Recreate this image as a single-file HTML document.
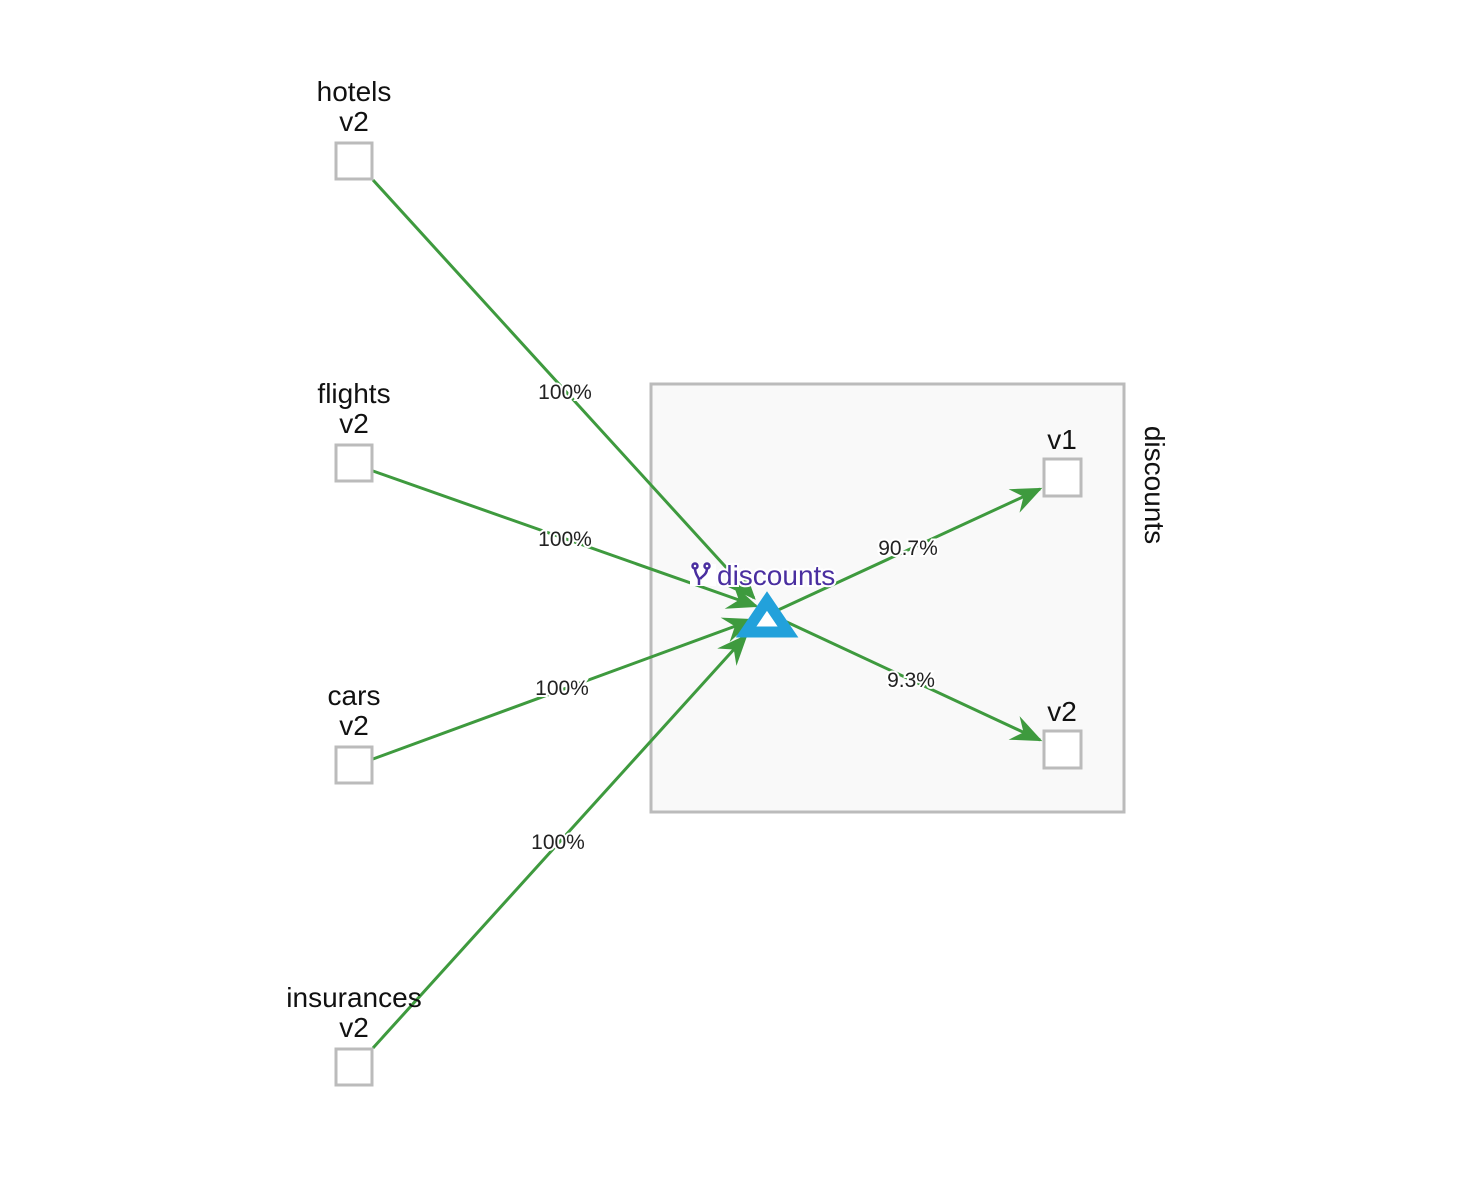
<!DOCTYPE html>
<html><head><meta charset="utf-8"><style>
html,body{margin:0;padding:0;background:#fff;}
svg{display:block;font-family:"Liberation Sans",sans-serif;}
.lbl{font-size:28px;fill:#111;text-anchor:middle;}
.pct{font-size:21px;fill:#222;text-anchor:middle;paint-order:stroke;stroke:#fff;stroke-width:4px;}
</style></head><body>
<svg id="g" width="1483" height="1187" viewBox="0 0 1483 1187">
<defs><marker id="ar2" viewBox="0 0 12 10" refX="11" refY="5" markerWidth="32" markerHeight="26" markerUnits="userSpaceOnUse" orient="auto"><path d="M0,0 L12,5 L0,10 L4,5 Z" fill="#3e9a3e"/></marker></defs>
<rect x="651" y="384" width="473" height="428" fill="#f9f9f9" stroke="#bbb" stroke-width="3"/>
<text x="1145" y="485" transform="rotate(90 1145 485)" class="lbl">discounts</text>
<g id="edges"></g>
<g id="nodes"></g>
<polygon points="767,601 746,632 788,632" fill="#fff" stroke="#22a1db" stroke-width="11" stroke-linejoin="miter"/>
<g fill="none" stroke="#4a2fa0" stroke-width="2.5">
<rect x="690" y="564" width="26" height="22" fill="#fff" stroke="none"/>
<circle cx="695" cy="566" r="2.5"/><circle cx="707" cy="566" r="2.5"/>
<path d="M695,568 C695,575 699,577 699,580 L699,585 M707,568 C707,575 702,576 700,579"/>
</g>
<text x="717" y="585" font-size="28" fill="#4a2fa0" style="paint-order:stroke;stroke:#fff;stroke-width:4px">discounts</text>
</svg>
<script>
const sources=["hotels","flights","cars","insurances"];
const sourcePct=["100%","100%","100%","100%"];
const targets=["v1","v2"];
const targetPct=["90.7%","9.3%"];
const srcY=[161,463,765,1067];
const ns="http://www.w3.org/2000/svg";
const E=document.getElementById('edges'),N=document.getElementById('nodes');
const cx=766,cy=614;
function mk(t,a){const e=document.createElementNS(ns,t);for(const k in a)e.setAttribute(k,a[k]);return e;}
function edge(x1,y1,x2,y2,lab,lx,ly,name){
  const l=mk('line',{x1,y1,x2,y2,stroke:'#3e9a3e','stroke-width':3,'marker-end':'url(#ar2)'});
  
  
  E.appendChild(l);
  const t=mk('text',{x:lx,y:ly,class:'pct'});t.textContent=lab;
  
  
  E.appendChild(t);
}
function node(x,y,l1,l2,name){
  const r=mk('rect',{x:x-18,y:y-18,width:36,height:36,fill:'#fff',stroke:'#bbb','stroke-width':3});
  
  
  N.appendChild(r);
  [l1,l2].forEach((s,i)=>{if(!s)return;const t=mk('text',{x,y:y-60+i*30,class:'lbl'});t.textContent=s;
    
    
    N.appendChild(t);});
}
const ends=[[754,598],[756,606],[752,620],[746,636]];
const labPos=[[565,399],[565,546],[562,695],[558,849]];
sources.forEach((s,i)=>{
  const x1=373,y1=i==0?180:(i==3?1048:srcY[i]+(i==1?8:-6));
  const [x2,y2]=ends[i];
  edge(x1,y1,x2,y2,sourcePct[i],labPos[i][0],labPos[i][1],s);
  node(354,srcY[i],s,'v2',s);
});
const tY=[478,750];
targets.forEach((t,i)=>{
  const x2=1040,y2=i==0?489:740;
  edge(cx+10,cy-3+i*6,x2,y2,targetPct[i],i==0?908:911,i==0?555:687,'discounts-'+t);
  const r=mk('rect',{x:1044,y:tY[i]-19,width:37,height:37,fill:'#fff',stroke:'#bbb','stroke-width':3});
  
  
  N.appendChild(r);
  const tx=mk('text',{x:1062,y:tY[i]-29,class:'lbl'});tx.textContent=t;
  
  
  N.appendChild(tx);
});
</script>
</body></html>
